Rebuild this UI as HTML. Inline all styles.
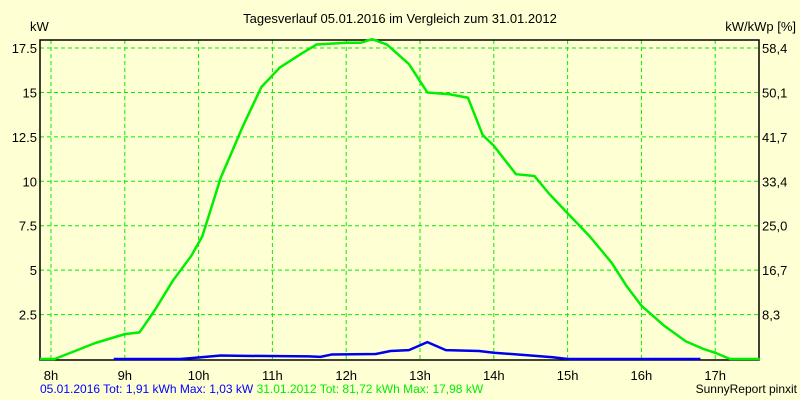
<!DOCTYPE html>
<html><head><meta charset="utf-8"><style>
body{margin:0;background:#ffffd4;}
svg{display:block;font-family:"Liberation Sans",sans-serif;}
</style></head><body>
<svg width="800" height="400">
<rect width="800" height="400" fill="#ffffd4"/>
<g id="grid"></g><g id="axes"></g><g id="series"></g>
<text x="400" y="23" font-size="13" text-anchor="middle">Tagesverlauf 05.01.2016 im Vergleich zum 31.01.2012</text>
<text x="30" y="31" font-size="13">kW</text>
<text x="796" y="31" font-size="13" text-anchor="end">kW/kWp [%]</text>
<text x="40" y="393" font-size="12" fill="#0000ff">05.01.2016 Tot: 1,91 kWh Max: 1,03 kW <tspan fill="#00ee00">31.01.2012 Tot: 81,72 kWh Max: 17,98 kW</tspan></text>
<text x="797" y="393" font-size="12" text-anchor="end">SunnyReport pinxit</text>
</svg>
<script>
const hourTicks=[8,9,10,11,12,13,14,15,16,17];
const yTicks=[2.5,5,7.5,10,12.5,15,17.5];
const yTickLabels=["2.5","5","7.5","10","12.5","15","17.5"];
const y2TickLabels=["8,3","16,7","25,0","33,4","41,7","50,1","58,4"];
const greenT=[7.85,8.05,8.6,9.0,9.2,9.4,9.65,9.9,10.05,10.3,10.6,10.85,11.1,11.4,11.6,12.0,12.2,12.35,12.55,12.85,13.1,13.4,13.65,13.85,14.0,14.3,14.55,14.75,15.0,15.3,15.6,15.8,16.0,16.3,16.6,16.85,17.0,17.2,17.6];
const greenV=[0,0,0.9,1.4,1.5,2.7,4.4,5.8,6.9,10.2,13.1,15.3,16.4,17.2,17.7,17.8,17.8,18.0,17.7,16.6,15.0,14.9,14.7,12.6,12.0,10.4,10.3,9.3,8.2,6.9,5.4,4.1,3.0,1.9,1.0,0.55,0.35,0,0];
const blueT=[8.85,9.75,9.9,10.3,10.5,11.5,11.65,11.8,12.4,12.6,12.85,13.1,13.35,13.8,14.0,14.5,14.8,15.0,16.8];
const blueV=[0,0,0.05,0.2,0.18,0.15,0.12,0.25,0.28,0.45,0.5,0.95,0.5,0.45,0.35,0.2,0.1,0,0];
const NS="http://www.w3.org/2000/svg";
const L=40,R=759,T=40,B=360;
const xs=h=>51+(h-8)*73.8;
const ys=v=>359-v*17.77;
function mk(tag,attrs,parent){const e=document.createElementNS(NS,tag);for(const k in attrs)e.setAttribute(k,attrs[k]);document.getElementById(parent).appendChild(e);return e;}
hourTicks.forEach(h=>{
 const l=mk('line',{x1:xs(h),x2:xs(h),y1:T,y2:B,stroke:'#00ee00','stroke-dasharray':'4,3'},'grid');
 
 
 const t=mk('text',{x:xs(h),y:380,'font-size':13,'text-anchor':'middle'},'axes');t.textContent=h+'h';
 
 
});
yTicks.forEach((v,i)=>{
 const l=mk('line',{x1:L,x2:R,y1:ys(v),y2:ys(v),stroke:'#00ee00','stroke-dasharray':'4,3'},'grid');
 
 
 const t=mk('text',{x:37,y:ys(v)+5,'font-size':13,'text-anchor':'end'},'axes');t.textContent=yTickLabels[i];
 
 
 const t2=mk('text',{x:762,y:ys(v)+5,'font-size':13},'axes');t2.textContent=y2TickLabels[i];
 
 
});
const frame=mk('path',{d:`M${L},${T}H${R}V${B}H${L}Z`,fill:'none',stroke:'#000','stroke-width':1.5},'axes');


function line(ts,vs,color,name){
 const p=mk('polyline',{points:ts.map((t,i)=>xs(t)+','+ys(vs[i])).join(' '),fill:'none',stroke:color,'stroke-width':2.5,'stroke-linejoin':'round'},'series');
 
 
}
line(blueT,blueV,'#0000ee','series-2016');
line(greenT,greenV,'#00ee00','series-2012');
</script>
</body></html>
